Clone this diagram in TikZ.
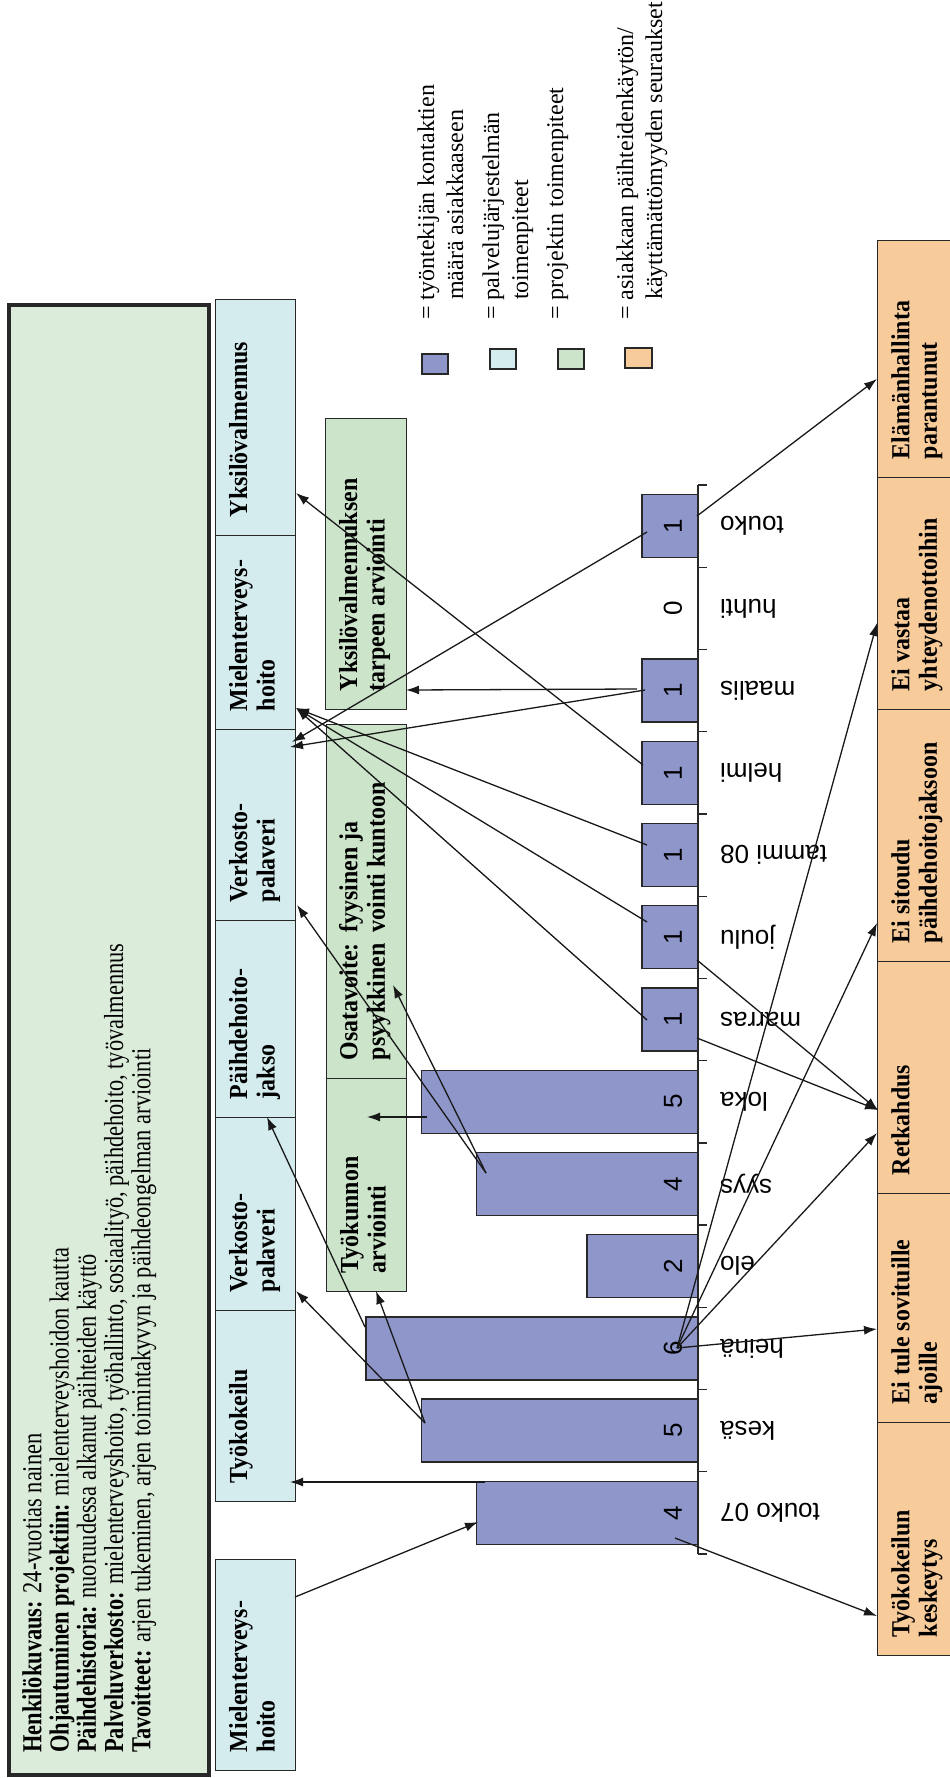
\documentclass[tikz,border=0pt]{standalone}
\usepackage{fontspec}
\setmainfont{Liberation Serif}
\setsansfont{Liberation Sans}
\newfontfamily\infofam[FakeStretch=0.815]{Liberation Serif}
\newfontfamily\labfam[FakeStretch=0.92]{Liberation Serif}
\usetikzlibrary{arrows.meta,calc}
\definecolor{barc}{RGB}{142,150,202}
\definecolor{lblue}{RGB}{212,236,238}
\definecolor{lgreen}{RGB}{204,228,202}
\definecolor{infog}{RGB}{220,236,218}
\definecolor{orng}{RGB}{248,203,155}
\definecolor{edge}{RGB}{40,40,40}
\newcommand\labfont{\labfam\fontsize{26}{27.5}\selectfont\bfseries}
\newcommand\txtfont{\infofam\fontsize{27.5}{27.3}\selectfont}
\newcommand\legfont{\fontsize{24}{29}\selectfont}
\newcommand\numfont{\sffamily\fontsize{26}{30}\selectfont}
\begin{document}
\begin{tikzpicture}[x=1pt,y=-1pt,
  box/.style={draw=edge, line width=1.4pt, inner sep=0pt, anchor=north west},
  lab/.style={rotate=90, anchor=north west, inner sep=0pt, align=left, font=\labfont},
  bar/.style={draw=edge, line width=1.4pt, fill=barc, inner sep=0pt, minimum height=63pt, anchor=east},
  num/.style={rotate=90, inner sep=0pt, font=\numfont},
  mon/.style={rotate=180, anchor=east, inner sep=0pt, font=\numfont},
  leg/.style={rotate=90, anchor=base west, inner sep=0pt, font=\legfont},
  conn/.style={-{Latex[length=13pt,width=9pt]}, line width=1.3pt, draw=black!90}]
\useasboundingbox (0,0) rectangle (950,1778);
\fill[white] (0,0) rectangle (950,1778);

% info box
\node[box, line width=4pt, fill=infog, minimum width=200pt, minimum height=1470pt] (info) at (7,303) {};
\node[rotate=90, anchor=north west, inner sep=0pt, align=left, font=\txtfont] (infotext) at (22,1753)
 {\textbf{Henkilökuvaus:} 24-vuotias nainen\\
  \textbf{Ohjautuminen projektiin:} mielenterveyshoidon kautta\\
  \textbf{Päihdehistoria:} nuoruudessa alkanut päihteiden käyttö\\
  \textbf{Palveluverkosto:} mielenterveyshoito, työhallinto, sosiaalityö, päihdehoito, työvalmennus\\
  \textbf{Tavoitteet:} arjen tukeminen, arjen toimintakyvyn ja päihdeongelman arviointi};

% service system boxes (light blue)
\node[box, fill=lblue, minimum width=80pt, minimum height=236pt] (b1) at (215,299) {};
\node[box, fill=lblue, minimum width=80pt, minimum height=194pt] (b2) at (215,535) {};
\node[box, fill=lblue, minimum width=80pt, minimum height=191pt] (b3) at (215,729) {};
\node[box, fill=lblue, minimum width=80pt, minimum height=197pt] (b4) at (215,920) {};
\node[box, fill=lblue, minimum width=80pt, minimum height=193pt] (b5) at (215,1117) {};
\node[box, fill=lblue, minimum width=80pt, minimum height=191pt] (b6) at (215,1310) {};
\node[box, fill=lblue, minimum width=80pt, minimum height=211pt] (b7) at (215,1559) {};
\node[lab] (lb1) at ($(b1.south west)+(14,-19)$) {Yksilövalmennus};
\node[lab] (lb2) at ($(b2.south west)+(14,-19)$) {Mielenterveys-\\hoito};
\node[lab] (lb3) at ($(b3.south west)+(14,-19)$) {Verkosto-\\palaveri};
\node[lab] (lb4) at ($(b4.south west)+(14,-19)$) {Päihdehoito-\\jakso};
\node[lab] (lb5) at ($(b5.south west)+(14,-19)$) {Verkosto-\\palaveri};
\node[lab] (lb6) at ($(b6.south west)+(14,-19)$) {Työkokeilu};
\node[lab] (lb7) at ($(b7.south west)+(14,-19)$) {Mielenterveys-\\hoito};

% project boxes (green)
\node[box, fill=lgreen, minimum width=81pt, minimum height=291pt] (g1) at (325,418) {};
\node[box, fill=lgreen, minimum width=80pt, minimum height=354pt] (g2) at (326,724) {};
\node[box, fill=lgreen, minimum width=80pt, minimum height=213pt] (g3) at (326,1078) {};
\node[lab] (lg1) at ($(g1.south west)+(14,-19)$) {Yksilövalmennuksen\\tarpeen arviointi};
\node[lab] (lg2) at ($(g2.south west)+(12,-19)$)
 {\begin{tabular}{@{}l@{\hspace{11pt}}l@{}}Osatavoite: & fyysinen ja\\ psyykkinen & vointi kuntoon\end{tabular}};
\node[lab] (lg3) at ($(g3.south west)+(14,-19)$) {Työkunnon\\arviointi};

% consequence boxes (orange)
\node[box, fill=orng, minimum width=76pt, minimum height=237pt] (o1) at (877,240) {};
\node[box, fill=orng, minimum width=76pt, minimum height=232pt] (o2) at (877,477) {};
\node[box, fill=orng, minimum width=76pt, minimum height=252pt] (o3) at (877,709) {};
\node[box, fill=orng, minimum width=76pt, minimum height=232pt] (o4) at (877,961) {};
\node[box, fill=orng, minimum width=76pt, minimum height=229pt] (o5) at (877,1193) {};
\node[box, fill=orng, minimum width=76pt, minimum height=233pt] (o6) at (877,1422) {};
\node[lab] (lo1) at ($(o1.south west)+(14,-19)$) {Elämänhallinta\\parantunut};
\node[lab] (lo2) at ($(o2.south west)+(14,-19)$) {Ei vastaa\\yhteydenottoihin};
\node[lab] (lo3) at ($(o3.south west)+(14,-19)$) {Ei sitoudu\\päihdehoitojaksoon};
\node[lab] (lo4) at ($(o4.south west)+(14,-19)$) {Retkahdus};
\node[lab] (lo5) at ($(o5.south west)+(14,-19)$) {Ei tule sovituille\\ajoille};
\node[lab] (lo6) at ($(o6.south west)+(14,-19)$) {Työkokeilun\\keskeytys};

% legend
\node[box, line width=1.8pt, fill=barc, minimum width=26pt, minimum height=20pt] (k1) at (421,353) {};
\node[box, line width=1.8pt, fill=lblue, minimum width=26pt, minimum height=20pt] (k2) at (489,348) {};
\node[box, line width=1.8pt, fill=lgreen, minimum width=26pt, minimum height=20pt] (k3) at (557,348) {};
\node[box, line width=1.8pt, fill=orng, minimum width=27pt, minimum height=20pt] (k4) at (624,347) {};
\node[leg] (t1a) at (434,320) {= työntekijän kontaktien};
\node[leg] (t1b) at (463,300) {määrä asiakkaaseen};
\node[leg] (t2a) at (499,320) {= palvelujärjestelmän};
\node[leg] (t2b) at (528,300) {toimenpiteet};
\node[leg] (t3a) at (563,320) {= projektin toimenpiteet};
\node[leg] (t4a) at (633,320) {= asiakkaan päihteidenkäytön/};
\node[leg] (t4b) at (662,300) {käyttämättömyyden seuraukset};

% chart
\foreach \i/\v/\m in {0/4/{touko 07},1/5/kesä,2/6/heinä,3/2/elo,4/4/syys,5/5/loka,6/1/marras,7/1/joulu,8/1/{tammi 08},9/1/helmi,10/1/maalis,11/0/huhti,12/1/touko}{
  \pgfmathsetmacro\cy{1554-82.23*(\i+0.5)}
  \ifnum\v>0 \node[bar, minimum width=55.2*\v] (bar\i) at (698,\cy) {};\fi
  \node[num] (n\i) at (673,\cy) {\v};
  \node[mon] (m\i) at (720,\cy) {\m};
}
\draw[edge, line width=1.3pt] (698,485) -- (698,1554);
\foreach \k in {0,...,13}{\draw[edge, line width=1.3pt] (698,485+82.23*\k) -- (707,485+82.23*\k);}

% connector end points
\coordinate (s01) at (295,1597); \coordinate (e01) at (478,1522);
\coordinate (s02) at (485,1482); \coordinate (e02) at (290,1482);
\coordinate (s03) at (675,1538); \coordinate (e03) at (877,1616);
\coordinate (kesa) at (425,1423);
\coordinate (e04) at (296,1291); \coordinate (e05) at (376,1291);
\coordinate (heina) at (677,1348);
\coordinate (e06) at (877,1329); \coordinate (e07) at (877,1133);
\coordinate (e08) at (877,923); \coordinate (e09) at (877,623);
\coordinate (s10) at (365,1327); \coordinate (e10) at (267,1117);
\coordinate (syys) at (486,1173);
\coordinate (e11) at (297,905); \coordinate (e12) at (393,985);
\coordinate (s13) at (427,1117); \coordinate (e13) at (367,1117);
\coordinate (mhoito) at (296,708);
\coordinate (s14) at (647,1020); \coordinate (s15) at (647,922); \coordinate (s16) at (647,845);
\coordinate (retk) at (878,1110);
\coordinate (s17) at (697,1038); \coordinate (s18) at (697,960);
\coordinate (s19) at (643,765); \coordinate (e19) at (296,493);
\coordinate (s20) at (637,689); \coordinate (e20) at (406,690);
\coordinate (s21) at (645,690); \coordinate (e21) at (290,747);
\coordinate (s22) at (647,532); \coordinate (e22) at (292,742);
\coordinate (s23) at (697,516); \coordinate (e23) at (877,379);

\draw[conn] (s01) -- (e01);
\draw[conn] (s02) -- (e02);
\draw[conn] (s03) -- (e03);
\draw[conn] (kesa) -- (e04);
\draw[conn] (kesa) -- (e05);
\draw[conn] (heina) -- (e06);
\draw[conn] (heina) -- (e07);
\draw[conn] (heina) -- (e08);
\draw[conn] (heina) -- (e09);
\draw[conn] (s10) -- (e10);
\draw[conn] (syys) -- (e11);
\draw[conn] (syys) -- (e12);
\draw[conn] (s13) -- (e13);
\draw[conn] (s14) -- (mhoito);
\draw[conn] (s15) -- (mhoito);
\draw[conn] (s16) -- (mhoito);
\draw[conn] (s17) -- (retk);
\draw[conn] (s18) -- (retk);
\draw[conn] (s19) -- (e19);
\draw[conn] (s20) -- (e20);
\draw[conn] (s21) -- (e21);
\draw[conn] (s22) -- (e22);
\draw[conn] (s23) -- (e23);
\end{tikzpicture}
\end{document}
